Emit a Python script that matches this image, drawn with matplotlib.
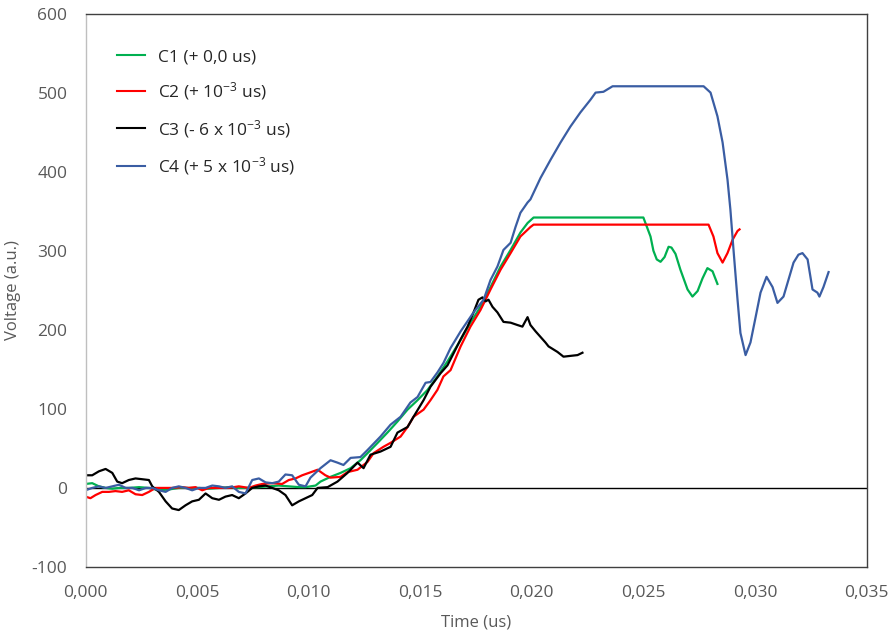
import matplotlib
matplotlib.use("Agg")
import matplotlib.pyplot as plt

# ---- data (time in us, voltage in a.u.) ----
c1_t = [0.0, 0.0003, 0.0006, 0.0009, 0.0012, 0.0015, 0.00194, 0.0024, 0.00284, 0.00329,
        0.00373, 0.00418, 0.00463, 0.00508, 0.00553, 0.00598, 0.00642, 0.00687, 0.00732,
        0.00777, 0.00822, 0.00866, 0.00911, 0.00956, 0.00986, 0.01031, 0.01053, 0.01098,
        0.01143, 0.01188, 0.01232, 0.01264, 0.01309, 0.01353, 0.01398, 0.01443, 0.01488,
        0.01533, 0.01577, 0.01622, 0.01681, 0.01725, 0.0177, 0.01815, 0.0186, 0.01905,
        0.01949, 0.01981, 0.02008, 0.0203, 0.0215, 0.0230, 0.0250, 0.02532, 0.02545,
        0.0256, 0.02577, 0.02595, 0.02613, 0.02626, 0.02644, 0.02666, 0.02698, 0.0272,
        0.02743, 0.02765, 0.02787, 0.0281, 0.02832]
c1_v = [5, 6, 2, 0, -1, 0, 0, 1, 0, -3,
        -2, 0, 0, 0, -1, 0, 1, 0, 0,
        1, 2, 3, 2, 1, 1, 3, 8, 14,
        19, 25, 35, 44, 57, 70, 84, 99, 111,
        124, 141, 160, 187, 209, 229, 254, 280, 301,
        323, 335, 342, 342, 342, 342, 342, 318, 300,
        289, 286, 292, 305, 304, 296, 276, 251, 242,
        249, 265, 278, 274, 258]

c2_t = [0.0, 0.00022, 0.00045, 0.00075, 0.00105, 0.00134, 0.00164, 0.00194, 0.00224,
        0.00254, 0.00284, 0.00314, 0.00344, 0.00388, 0.00433, 0.00463, 0.00493, 0.00523,
        0.00553, 0.00598, 0.00642, 0.00687, 0.00732, 0.00762, 0.00792, 0.00837, 0.00881,
        0.00911, 0.00941, 0.00971, 0.01001, 0.0104, 0.01075, 0.01098, 0.01143, 0.01174,
        0.01219, 0.01264, 0.01291, 0.01335, 0.01367, 0.01412, 0.01443, 0.0147, 0.01515,
        0.01546, 0.01577, 0.01604, 0.01636, 0.01681, 0.01725, 0.0177, 0.01815, 0.0186,
        0.01905, 0.01949, 0.01994, 0.02008, 0.0220, 0.0250, 0.02792, 0.02814, 0.02832,
        0.02855, 0.02877, 0.029, 0.02922, 0.02931]
c2_v = [-11, -13, -9, -5, -5, -4, -5, -3, -8,
        -9, -5, 0, 0, 0, 1, 0, 1, -3,
        0, 0, 0, 2, 0, 3, 5, 6, 5,
        10, 12, 16, 19, 23, 16, 13, 14, 20,
        23, 33, 44, 52, 57, 65, 77, 90, 99,
        111, 124, 141, 149, 179, 204, 225, 251, 276,
        297, 318, 330, 333, 333, 333, 333, 318, 297,
        285, 297, 314, 325, 327]

c3_t = [0.0, 0.0003, 0.0006, 0.0009, 0.0012, 0.00142, 0.00164, 0.00194, 0.00224, 0.00254,
        0.00284, 0.00299, 0.00329, 0.00359, 0.00388, 0.00418, 0.00448, 0.00478, 0.00508,
        0.00538, 0.00568, 0.00598, 0.00627, 0.00657, 0.00687, 0.00717, 0.00747, 0.00777,
        0.00807, 0.00837, 0.00866, 0.00896, 0.00926, 0.00956, 0.00986, 0.01016, 0.0104,
        0.01085, 0.01129, 0.01174, 0.01219, 0.01246, 0.01277, 0.01322, 0.01367, 0.01398,
        0.01443, 0.0147, 0.01515, 0.01546, 0.01591, 0.01622, 0.01649, 0.01681, 0.01712,
        0.01739, 0.01761, 0.01779, 0.01793, 0.01806, 0.01824, 0.01846, 0.01873, 0.01905,
        0.01936, 0.01958, 0.01981, 0.01994, 0.02017, 0.02039, 0.02061, 0.02075, 0.02115,
        0.02142, 0.02173, 0.02205, 0.02227]
c3_v = [16, 16, 21, 24, 19, 8, 6, 10, 12, 11,
        10, 2, -5, -17, -26, -28, -22, -17, -15,
        -7, -13, -15, -11, -9, -13, -7, 0, 2,
        3, 0, -3, -9, -22, -17, -13, -9, 0,
        1, 8, 19, 32, 25, 42, 46, 52, 70,
        77, 90, 111, 128, 145, 155, 170, 188, 204,
        222, 238, 241, 236, 238, 229, 222, 210, 209,
        206, 204, 216, 206, 198, 191, 184, 179, 172,
        166, 167, 168, 171]

c4_t = [0.0, 0.0003, 0.0006, 0.0009, 0.0012, 0.0015, 0.0018, 0.0021, 0.0024, 0.0027,
        0.003, 0.00329, 0.00359, 0.00388, 0.00418, 0.00448, 0.00478, 0.00508, 0.00538,
        0.00568, 0.00598, 0.00627, 0.00657, 0.00687, 0.00717, 0.00747, 0.00777, 0.00807,
        0.00837, 0.00866, 0.00896, 0.00926, 0.00956, 0.00986, 0.01008, 0.01053, 0.01098,
        0.01129, 0.01156, 0.01188, 0.01232, 0.01264, 0.01322, 0.01367, 0.01412, 0.01456,
        0.01488, 0.01524, 0.01546, 0.01577, 0.01604, 0.01636, 0.01681, 0.01739, 0.01784,
        0.01815, 0.01846, 0.01873, 0.01905, 0.01927, 0.01949, 0.01981, 0.01994, 0.02039,
        0.02084, 0.02129, 0.02173, 0.02218, 0.02263, 0.02286, 0.02321, 0.02362, 0.0255,
        0.0277, 0.02801, 0.02832, 0.02855, 0.02877, 0.0289, 0.02904, 0.02922, 0.02935,
        0.02958, 0.0298, 0.03003, 0.03025, 0.03052, 0.03079, 0.03101, 0.03128, 0.0315,
        0.03173, 0.03195, 0.03213, 0.03236, 0.03258, 0.0328, 0.03289, 0.03307, 0.0333]
c4_v = [-3, 0, 2, 0, 2, 4, 0, 0, -3, 0,
        0, -3, -5, 0, 2, 0, -3, 0, 0,
        3, 2, 0, 2, -5, -7, 10, 12, 7,
        6, 8, 17, 16, 4, 2, 13, 25, 35,
        32, 29, 38, 39, 48, 65, 80, 90, 108,
        115, 133, 134, 146, 158, 177, 198, 222, 238,
        263, 280, 301, 310, 330, 348, 361, 365, 392,
        415, 437, 457, 475, 491, 500, 501, 508, 508,
        508, 500, 470, 437, 390, 352, 301, 238, 196,
        168, 184, 216, 247, 267, 254, 234, 242, 263,
        285, 295, 297, 289, 251, 247, 242, 254, 273]

series = [
    (c1_t, c1_v, "#00B050", r"C1 (+ 0,0 us)"),
    (c2_t, c2_v, "#FF0000", r"C2 (+ 10$^{\mathregular{-3}}$ us)"),
    (c3_t, c3_v, "#000000", r"C3 (- 6 x 10$^{\mathregular{-3}}$ us)"),
    (c4_t, c4_v, "#3A5DA3", r"C4 (+ 5 x 10$^{\mathregular{-3}}$ us)"),
]

x_ticks = [0.0, 0.005, 0.010, 0.015, 0.020, 0.025, 0.030, 0.035]
x_tick_labels = ["0,000", "0,005", "0,010", "0,015", "0,020", "0,025", "0,030", "0,035"]
y_ticks = [-100, 0, 100, 200, 300, 400, 500, 600]

plt.rcParams["font.family"] = ["Open Sans", "DejaVu Sans"]
plt.rcParams["mathtext.fontset"] = "custom"
plt.rcParams["mathtext.rm"] = "Open Sans"
plt.rcParams["mathtext.it"] = "Open Sans"
plt.rcParams["axes.unicode_minus"] = False

fig = plt.figure(figsize=(8.89, 6.35), dpi=100)
ax = fig.add_axes([0.0962, 0.1071, 0.8785, 0.8716])

ax.axhline(0, color="black", lw=1.0, zorder=1)
for t, v, col, lab in series:
    ax.plot(t, v, color=col, lw=1.6, label=lab, zorder=2)

ax.set_xlim(0, 0.035)
ax.set_ylim(-100, 600)
ax.set_xticks(x_ticks)
ax.set_xticklabels(x_tick_labels)
ax.set_yticks(y_ticks)
ax.tick_params(axis="both", length=0, labelsize=12.5, labelcolor="#595959")
ax.tick_params(axis="x", pad=13)
ax.tick_params(axis="y", pad=13)

for side in ["top", "right", "bottom"]:
    ax.spines[side].set_color("#404040")
    ax.spines[side].set_linewidth(1.0)
ax.spines["left"].set_color("#BFBFBF")
ax.spines["left"].set_linewidth(1.0)

ax.set_xlabel("Time (us)", fontsize=12, color="#595959", labelpad=10)
ax.set_ylabel("Voltage (a.u.)", fontsize=12, color="#595959", labelpad=8)

leg = ax.legend(loc="upper left", bbox_to_anchor=(0.02, 0.964), frameon=False,
                fontsize=12.5, handlelength=1.65, handletextpad=0.7, labelspacing=0.88)
for text in leg.get_texts():
    text.set_color("#262626")
for line in leg.get_lines():
    line.set_linewidth(1.5)

fig.savefig("out.png", dpi=100)
